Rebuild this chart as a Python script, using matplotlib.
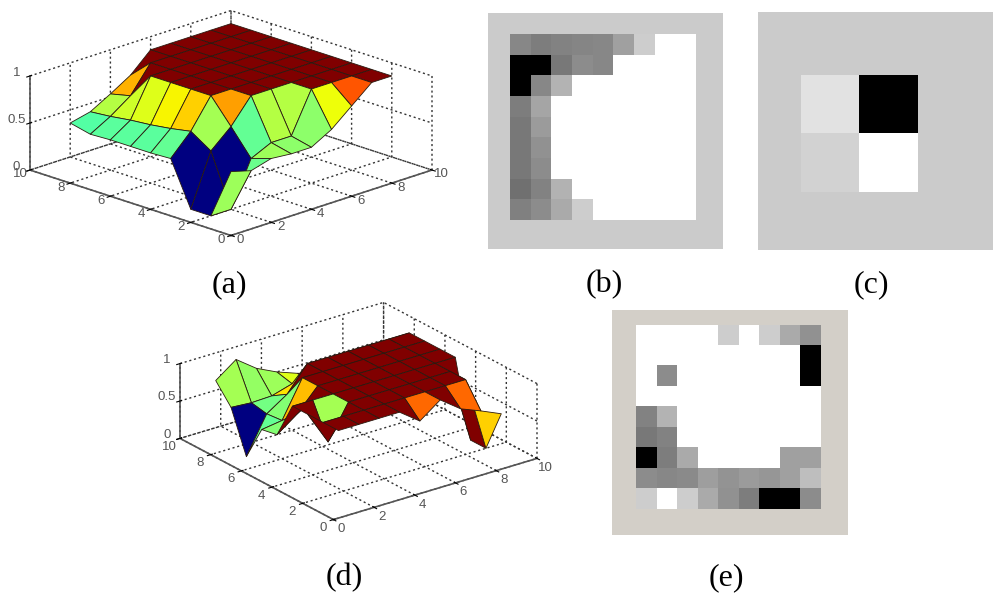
import itertools
import numpy as np
import matplotlib
matplotlib.use('Agg')
import matplotlib.pyplot as plt
from mpl_toolkits.mplot3d import proj3d

plt.rcParams['font.family'] = ['Liberation Sans', 'DejaVu Sans']
plt.rcParams['grid.linestyle'] = (0, (1.5, 2))
plt.rcParams['grid.color'] = '#333333'
plt.rcParams['grid.linewidth'] = 1.0

# surface heights, rows are y=1..9, columns x=1..9
z_a = [[.54, .48, .54, .52, .52, .64, .82, 1, 1],
       [0, 0, .47, .57, .57, 1, 1, 1, 1],
       [0, .55, .74, 1, 1, 1, 1, 1, 1],
       [.47, .69, 1, 1, 1, 1, 1, 1, 1],
       [.46, .65, 1, 1, 1, 1, 1, 1, 1],
       [.46, .62, 1, 1, 1, 1, 1, 1, 1],
       [.46, .60, 1, 1, 1, 1, 1, 1, 1],
       [.45, .57, .72, 1, 1, 1, 1, 1, 1],
       [.50, .55, .67, .80, 1, 1, 1, 1, 1]]

z_d = [[1, 1, 1, 1, .80, 1, .80, .69, .57],
       [1, 1, 1, 1, 1, 1, 1, 1, 0],
       [1, .55, 1, 1, 1, 1, 1, 1, 0],
       [1, 1, 1, 1, 1, 1, 1, 1, 1],
       [.51, .71, 1, 1, 1, 1, 1, 1, 1],
       [.47, .51, 1, 1, 1, 1, 1, 1, 1],
       [0, .49, .67, 1, 1, 1, 1, 1, 1],
       [.55, .53, .54, .62, .58, .61, .59, .63, .75],
       [.80, 1, .80, .67, .57, .49, 0, 0, .55]]

# grey images
img_b = [[135, 125, 130, 133, 135, 160, 205, 255, 255],
         [0, 0, 120, 140, 135, 255, 255, 255, 255],
         [0, 135, 180, 255, 255, 255, 255, 255, 255],
         [125, 165, 255, 255, 255, 255, 255, 255, 255],
         [120, 155, 255, 255, 255, 255, 255, 255, 255],
         [120, 145, 255, 255, 255, 255, 255, 255, 255],
         [120, 140, 255, 255, 255, 255, 255, 255, 255],
         [112, 130, 178, 255, 255, 255, 255, 255, 255],
         [128, 140, 170, 205, 255, 255, 255, 255, 255]]

img_c = [[226, 0],
         [210, 255]]

img_e = [[255, 255, 255, 255, 205, 255, 205, 170, 145],
         [255, 255, 255, 255, 255, 255, 255, 255, 0],
         [255, 140, 255, 255, 255, 255, 255, 255, 0],
         [255, 255, 255, 255, 255, 255, 255, 255, 255],
         [130, 180, 255, 255, 255, 255, 255, 255, 255],
         [120, 130, 255, 255, 255, 255, 255, 255, 255],
         [0, 125, 170, 255, 255, 255, 255, 160, 160],
         [140, 135, 138, 158, 148, 155, 150, 160, 190],
         [205, 255, 205, 170, 145, 125, 0, 0, 140]]

grid_pts = [1, 2, 3, 4, 5, 6, 7, 8, 9]
xy_ticks = [0, 2, 4, 6, 8, 10]
z_ticks = [0, 0.5, 1]
z_ticklabels = ['0', '0.5', '1']

W, H = 1000, 602
fig = plt.figure(figsize=(W / 100, H / 100), dpi=100)


def fit_box(ax, left, top, right, bottom):
    # move the axes so the projected cube lands on these pixels
    for i in range(3):
        ax.apply_aspect()
        cx, cy, cz = zip(*itertools.product((0, 10), (0, 10), (0, 1)))
        xs, ys, _ = proj3d.proj_transform(np.array(cx), np.array(cy), np.array(cz), ax.get_proj())
        px = ax.transData.transform(np.c_[xs, ys])
        w = px[:, 0].max() - px[:, 0].min()
        mid_x = (px[:, 0].max() + px[:, 0].min()) / 2
        mid_y = (px[:, 1].max() + px[:, 1].min()) / 2
        p = ax.get_position()
        size = p.width * W * (right - left) / w
        new_x = p.x0 * W + p.width * W / 2 + (left + right) / 2 - mid_x
        new_y = p.y0 * H + p.height * H / 2 + (H - (top + bottom) / 2) - mid_y
        ax.set_position([(new_x - size / 2) / W, (new_y - size / 2) / H, size / W, size / H])


def surface(z, elev, azim, aspect, box, xy_va):
    ax = fig.add_axes([0.1, 0.1, 0.4, 0.4 * W / H], projection='3d', proj_type='ortho')
    ax.patch.set_alpha(0)
    z = np.array(z, dtype=float)
    X, Y = np.meshgrid(grid_pts, grid_pts)
    ax.plot_surface(X, Y, z, rstride=1, cstride=1, facecolors=plt.cm.jet(z), shade=False,
                    edgecolor='#2a1a10', linewidth=0.6, antialiased=True)
    ax.view_init(elev=elev, azim=azim)
    ax.set_box_aspect(aspect)
    ax.set_xlim(0, 10, view_margin=0)
    ax.set_ylim(0, 10, view_margin=0)
    ax.set_zlim(0, 1, view_margin=0)
    ax.set_xticks(xy_ticks)
    ax.set_yticks(xy_ticks)
    ax.set_zticks(z_ticks)
    ax.set_zticklabels(z_ticklabels)
    for axis in (ax.xaxis, ax.yaxis, ax.zaxis):
        axis.set_pane_color((1, 1, 1, 0))
        axis.pane.set_edgecolor('#333333')
        axis.pane.set_linestyle((0, (1.5, 2)))
        axis.line.set_color('#555555')
        axis.line.set_linewidth(1.2)
    ax.tick_params(labelsize=9.5, labelcolor='#555555', pad=-1)
    ax.zaxis.set_tick_params(pad=-3)
    ax.zaxis.set_ticks_position('upper')
    plt.setp(ax.get_zticklabels(), va='baseline')
    plt.setp(ax.get_xticklabels() + ax.get_yticklabels(), va=xy_va)
    fit_box(ax, *box)
    return ax


surface(z_a, 19, -135, (1, 1, 0.35), (30, 14, 432, 232), 'baseline')
surface(z_d, 23.5, -127, (1, 1, 0.32), (180, 302, 537, 520), 'center_baseline')


def gray_panel(img, outer, inner, bg):
    # rects in pixels: left, top, right, bottom
    back = fig.add_axes([outer[0] / W, 1 - outer[3] / H, (outer[2] - outer[0]) / W, (outer[3] - outer[1]) / H])
    back.set_facecolor(bg)
    back.set_xticks([])
    back.set_yticks([])
    for s in back.spines.values():
        s.set_visible(False)
    ax = fig.add_axes([inner[0] / W, 1 - inner[3] / H, (inner[2] - inner[0]) / W, (inner[3] - inner[1]) / H])
    ax.imshow(img, cmap='gray', vmin=0, vmax=255, aspect='auto', interpolation='nearest')
    ax.axis('off')


gray_panel(img_b, (488, 13, 723, 249), (510, 34, 696, 220), '#cbcbcb')
gray_panel(img_c, (758, 12, 993, 250), (801, 75, 918, 192), '#cbcbcb')
gray_panel(img_e, (612, 310, 848, 535), (636, 325, 821, 509), '#d3cfc8')

names = ['(a)', '(b)', '(c)', '(d)', '(e)']
name_x = [229, 604, 871, 344, 726]
name_y = [285, 285, 285, 578, 578]
for n, x, y in zip(names, name_x, name_y):
    fig.text(x / W, 1 - y / H, n, fontsize=23, family=['Liberation Serif'], ha='center', va='center')

fig.savefig('out.png', dpi=100)
